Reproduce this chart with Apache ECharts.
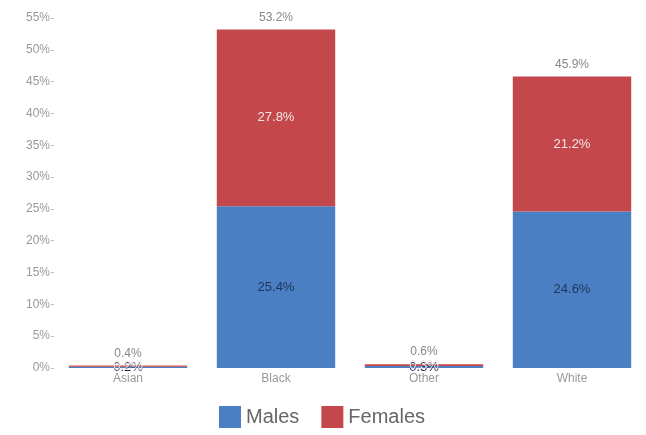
<!DOCTYPE html>
<html>
<head>
<meta charset="utf-8">
<script src="https://cdn.jsdelivr.net/npm/echarts@6/dist/echarts.min.js"></script>
<style>html,body{margin:0;padding:0;background:#fff;}#c{width:646px;height:435px;}</style>
</head>
<body>
<div id="c"></div>
<script>
const categories = ['Asian', 'Black', 'Other', 'White'];
const males = [0.2, 25.4, 0.3, 24.6];
const females = [0.2, 27.8, 0.3, 21.2];
const totals = [0.4, 53.2, 0.6, 45.9];

const font = 'Liberation Sans, Arial, sans-serif';
const chart = echarts.init(document.getElementById('c'));
chart.setOption({
  animation: false,
  grid: { left: 54, right: -1, top: 18, bottom: 67 },
  legend: {
    data: ['Males', 'Females'],
    left: 214, top: 401,
    itemWidth: 22, itemHeight: 22, itemGap: 22,
    icon: 'rect',
    textStyle: { fontSize: 20, color: '#666', fontFamily: font }
  },
  xAxis: {
    type: 'category', data: categories,
    axisLine: { show: false }, axisTick: { show: false },
    axisLabel: { color: '#999', fontSize: 12, margin: 5, fontFamily: font }
  },
  yAxis: {
    type: 'value', min: 0, max: 55, interval: 5,
    axisLine: { show: false },
    axisTick: { show: true, length: 3, lineStyle: { color: '#bbb' } },
    splitLine: { show: false },
    axisLabel: { formatter: '{value}%', color: '#999', fontSize: 12, margin: 4, fontFamily: font }
  },
  series: [
    {
      name: 'Males', type: 'bar', stack: 's', data: males, barWidth: '80%',
      itemStyle: { color: '#4a7fc3' },
      label: { show: true, position: 'inside', formatter: p => p.value.toFixed(1) + '%', color: '#1f3558', fontSize: 13, fontFamily: font }
    },
    {
      name: 'Females', type: 'bar', stack: 's', data: females, barWidth: '80%',
      itemStyle: { color: '#c4484b' },
      label: { show: true, position: 'inside', formatter: p => p.value.toFixed(1) + '%', color: '#f4e4e4', fontSize: 13, fontFamily: font }
    },
    {
      name: 'Total', type: 'bar', stack: 's', data: totals.map(() => 0), barWidth: '80%',
      itemStyle: { color: 'transparent' },
      label: { show: true, position: 'top', distance: 6, formatter: p => totals[p.dataIndex].toFixed(1) + '%', color: '#888', fontSize: 12, fontFamily: font }
    }
  ]
});
</script>
</body>
</html>
